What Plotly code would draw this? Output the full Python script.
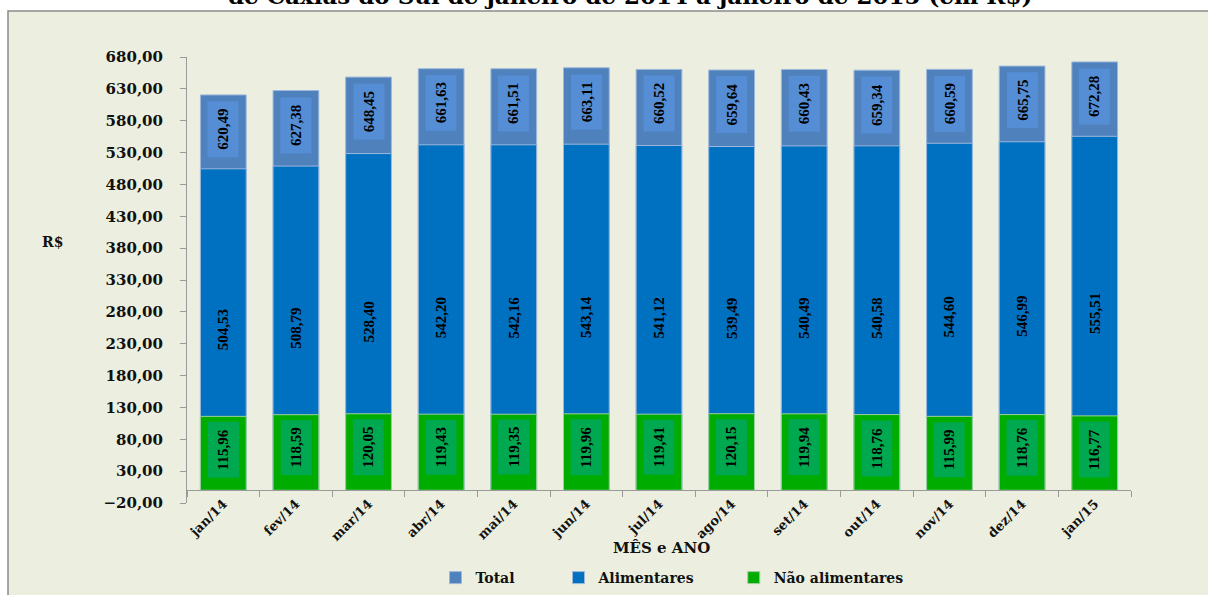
import plotly.graph_objects as go

categories = ["jan/14", "fev/14", "mar/14", "abr/14", "mai/14", "jun/14", "jul/14",
              "ago/14", "set/14", "out/14", "nov/14", "dez/14", "jan/15"]
total = [620.49, 627.38, 648.45, 661.63, 661.51, 663.11, 660.52, 659.64, 660.43, 659.34, 660.59, 665.75, 672.28]
alimentares = [504.53, 508.79, 528.40, 542.20, 542.16, 543.14, 541.12, 539.49, 540.49, 540.58, 544.60, 546.99, 555.51]
nao_alimentares = [115.96, 118.59, 120.05, 119.43, 119.35, 119.96, 119.41, 120.15, 119.94, 118.76, 115.99, 118.76, 116.77]
y_ticks = list(range(-20, 681, 50))

def fmt(v):
    return f"{v:.2f}".replace(".", ",")

W, H = 1208, 595
ML, MR, MT, MB = 187, 77, 57, 92
PW, PH = W - ML - MR, H - MT - MB
def px_x(p):
    return (p - ML) / PW
def px_y(p):
    return 1 + (MT - p) / PH

BG = "#ECEFDF"
SERIF = "DejaVu Serif"
LAB = "Liberation Serif"
NB = "&nbsp;"

fig = go.Figure()
fig.add_trace(go.Bar(x=categories, y=total, name="Total" + NB * 8,
                     marker=dict(color="#4F81BD", line=dict(color="#9DB8DC", width=1)),
                     width=0.63, hoverinfo="skip"))
fig.add_trace(go.Bar(x=categories, y=alimentares, name="Alimentares" + NB * 7,
                     marker=dict(color="#0070C0", line=dict(color="#9DB8DC", width=1)),
                     width=0.63, text=[fmt(v) for v in alimentares],
                     textposition="inside", insidetextanchor="middle", textangle=-90,
                     textfont=dict(family=LAB, size=15, color="black", weight="bold"),
                     constraintext="none", hoverinfo="skip"))
fig.add_trace(go.Bar(x=categories, y=nao_alimentares, name="Não alimentares",
                     marker=dict(color="#00AC00", line=dict(color="#9DCFA0", width=1)),
                     width=0.63, hoverinfo="skip"))

annotations = []
for c, v in zip(categories, total):
    annotations.append(dict(x=c, y=v, xref="x", yref="y", text=fmt(v), showarrow=False,
                            textangle=-90, yanchor="top", yshift=-6, bgcolor="#558ED5",
                            borderpad=7, font=dict(family=LAB, size=15, color="black", weight="bold")))
for c, v in zip(categories, nao_alimentares):
    annotations.append(dict(x=c, y=v, xref="x", yref="y", text=fmt(v), showarrow=False,
                            textangle=-90, yanchor="top", yshift=-5, bgcolor="#00A84F",
                            borderpad=7, font=dict(family=LAB, size=15, color="black", weight="bold")))

annotations.append(dict(x=px_x(661), y=px_y(548), xref="paper", yref="paper", text="MÊS e ANO",
                        showarrow=False, xanchor="center", yanchor="middle",
                        font=dict(family=SERIF, size=15, color="#111", weight="bold")))
annotations.append(dict(x=px_x(52), y=px_y(242), xref="paper", yref="paper", text="R$",
                        showarrow=False, xanchor="center", yanchor="middle",
                        font=dict(family=SERIF, size=14, color="#111", weight="bold")))
annotations.append(dict(x=px_x(630), y=px_y(11), xref="paper", yref="paper",
                        text="de Caxias do Sul de janeiro de 2014 a janeiro de 2015 (em R$)",
                        showarrow=False, xanchor="center", yanchor="bottom",
                        font=dict(family=SERIF, size=23, color="black", weight="bold")))

fig.update_layout(
    width=W, height=H,
    margin=dict(l=ML, r=MR, t=MT, b=MB, autoexpand=False),
    barmode="overlay",
    paper_bgcolor="white",
    plot_bgcolor=BG,
    separators=",.",
    showlegend=True,
    legend=dict(orientation="h", x=px_x(672), xanchor="center", y=px_y(578), yanchor="middle",
                font=dict(family=SERIF, size=14, color="#111", weight="bold"),
                bgcolor="rgba(0,0,0,0)", traceorder="normal", itemwidth=30),
    annotations=annotations,
    shapes=[dict(type="rect", xref="paper", yref="paper",
                 x0=px_x(8), x1=px_x(1220), y0=px_y(640), y1=px_y(11),
                 fillcolor=BG, line=dict(color="#8A8A8A", width=1.5), layer="below")],
    xaxis=dict(anchor="free", position=20 / 700, showline=True, linecolor="#9A9A9A",
               ticks="outside", tickson="boundaries", ticklen=6, tickcolor="#9A9A9A",
               tickangle=-45, showgrid=False, automargin=False,
               tickfont=dict(family=SERIF, size=13, color="#111", weight="bold")),
    yaxis=dict(range=[-20, 680], tickvals=y_ticks, tickformat=".2f", showline=True,
               linecolor="#9A9A9A", ticks="outside", ticklen=6, tickcolor="#9A9A9A",
               showgrid=False, zeroline=False, ticklabelstandoff=14, automargin=False,
               tickfont=dict(family=SERIF, size=15, color="#111", weight="bold")),
)

fig.write_html("out.html", config={"displayModeBar": False},
               post_script="document.body.style.margin='0';")
